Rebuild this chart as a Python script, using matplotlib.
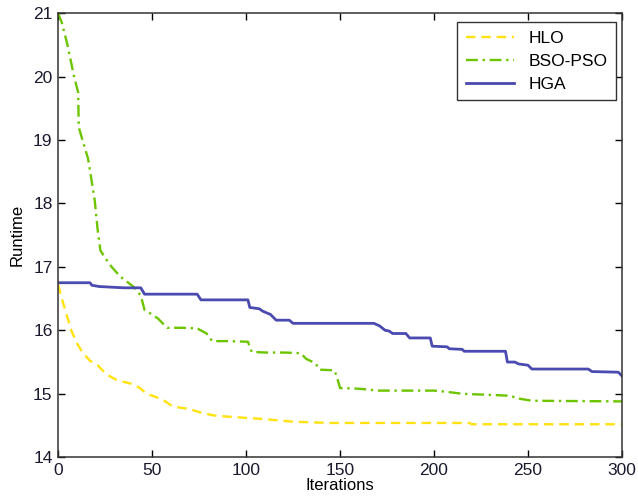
import numpy as np
import matplotlib
matplotlib.use("Agg")
import matplotlib.pyplot as plt

plt.rcParams['font.family'] = ['Liberation Sans', 'DejaVu Sans']

# values
hlo_x = [0, 2, 4, 7, 10, 13, 17, 21, 26, 31, 36, 40, 44, 47, 52, 56, 60, 63, 70, 74,
         78, 82.5, 90, 100, 110, 117, 125, 135, 145, 175, 200, 219, 220, 260, 300]
hlo_y = [16.72, 16.5, 16.3, 16.0, 15.8, 15.65, 15.52, 15.45, 15.3, 15.22, 15.18, 15.15,
         15.08, 15.0, 14.95, 14.9, 14.82, 14.79, 14.76, 14.72, 14.69, 14.66, 14.64, 14.62,
         14.60, 14.58, 14.56, 14.55, 14.54, 14.54, 14.54, 14.54, 14.52, 14.52, 14.52]

bso_x = [0, 2, 5, 8.5, 10.7, 11, 13, 16, 19.5, 21, 22.5, 26, 28.5, 33, 40, 44, 46, 50,
         53, 58, 66, 74, 79, 82, 90, 101, 103, 110, 120, 129, 132, 137, 139, 147, 148.5,
         150, 160, 170, 200, 207, 215, 240, 246, 252, 300]
bso_y = [21.0, 20.85, 20.5, 20.0, 19.75, 19.2, 19.0, 18.7, 18.05, 17.6, 17.26, 17.1,
         17.0, 16.85, 16.69, 16.55, 16.32, 16.25, 16.19, 16.04, 16.04, 16.03, 15.95, 15.83,
         15.83, 15.82, 15.66, 15.65, 15.65, 15.64, 15.55, 15.48, 15.38, 15.37, 15.25, 15.09,
         15.08, 15.05, 15.05, 15.03, 15.0, 14.97, 14.92, 14.89, 14.88]

hga_x = [0, 17, 18, 22, 35, 44, 46, 74, 76, 101, 102, 107, 109, 113, 116, 123, 125, 168,
         171, 174, 176, 178, 185, 187, 198, 199, 207, 208, 215, 216, 238, 239, 243, 245,
         250, 252, 282, 284, 298, 300]
hga_y = [16.75, 16.75, 16.71, 16.69, 16.67, 16.67, 16.57, 16.57, 16.48, 16.48, 16.36,
         16.34, 16.30, 16.25, 16.16, 16.16, 16.11, 16.11, 16.07, 16.0, 15.99, 15.95, 15.95,
         15.88, 15.88, 15.75, 15.74, 15.71, 15.70, 15.67, 15.67, 15.50, 15.50, 15.47, 15.45,
         15.39, 15.39, 15.35, 15.34, 15.28]

fig = plt.figure(figsize=(6.38, 5.03), dpi=100)
ax = fig.add_axes([0.091, 0.091, 0.884, 0.883])

ax.plot(hlo_x, hlo_y, color='#FFE20F', lw=1.7, ls=(0, (4, 2.5)), label='HLO')
ax.plot(bso_x, bso_y, color='#6CC500', lw=1.7, ls=(0, (5, 2, 1, 2)), label='BSO-PSO')
ax.plot(hga_x, hga_y, color='#4A4AB0', lw=2.0, label='HGA')

ax.set_xlim(0, 300)
ax.set_ylim(14, 21)
ax.set_xticks(np.arange(0, 301, 50))
ax.set_yticks(np.arange(14, 22, 1))
ax.tick_params(direction='in', top=True, right=True, length=5, width=1,
               labelsize=12.5, labelcolor='#1a1a2e', pad=4)
for s in ax.spines.values():
    s.set_linewidth(1.1)
    s.set_color('#333333')

ax.set_xlabel('Iterations', fontsize=12, labelpad=0)
ax.set_ylabel('Runtime', fontsize=12, labelpad=6)

leg = ax.legend(loc='upper right', fontsize=12.5, fancybox=False, framealpha=1,
                edgecolor='#333333', handlelength=2.8, borderpad=0.5,
                labelspacing=0.45, borderaxespad=0, bbox_to_anchor=(0.989, 0.98))
leg.get_frame().set_linewidth(1.0)

fig.savefig('out.png', dpi=100)
